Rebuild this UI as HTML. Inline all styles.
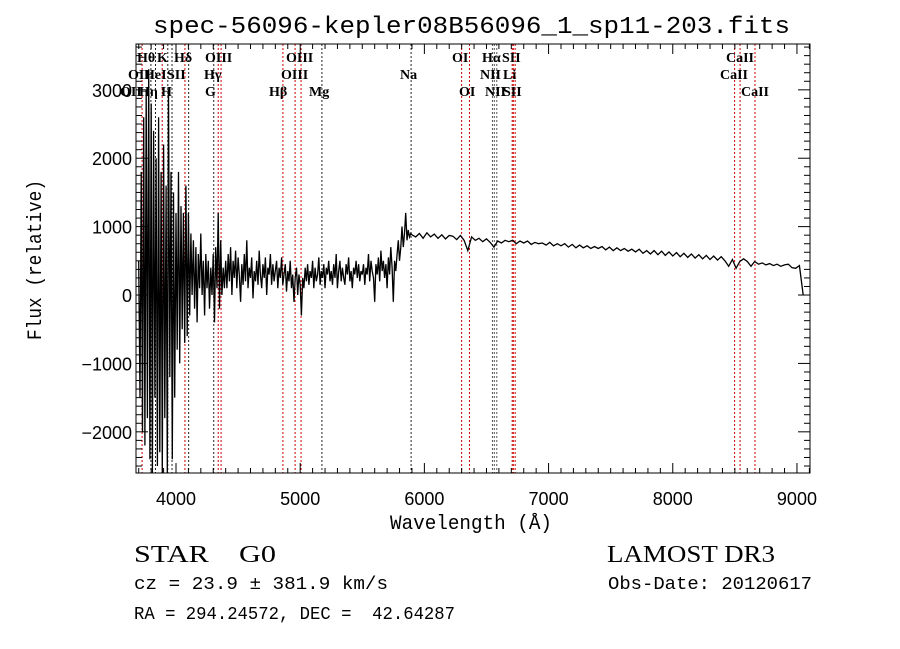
<!DOCTYPE html>
<html><head><meta charset="utf-8"><style>
html,body{margin:0;padding:0;background:#fff;}
svg{display:block;}
text{fill:#000;}
</style></head><body>
<svg id="chart" width="900" height="649" viewBox="0 0 900 649" xmlns="http://www.w3.org/2000/svg">
<rect x="0" y="0" width="900" height="649" fill="#fff"/>
<text x="153" y="33" textLength="637" lengthAdjust="spacingAndGlyphs" font-family="Liberation Mono, monospace" font-size="24">spec-56096-kepler08B56096_1_sp11-203.fits</text>
<g id="lines"></g>
<g id="series"></g>
<g id="axes"></g>
<text x="390" y="529" textLength="162" lengthAdjust="spacingAndGlyphs" font-family="Liberation Mono, monospace" font-size="20">Wavelength (Å)</text>
<text transform="translate(41,340) rotate(-90)" textLength="160" lengthAdjust="spacingAndGlyphs" font-family="Liberation Mono, monospace" font-size="20">Flux (relative)</text>
<text x="134" y="562" textLength="142" lengthAdjust="spacingAndGlyphs" font-family="Liberation Serif, serif" font-size="24" xml:space="preserve">STAR    G0</text>
<text x="607" y="562" textLength="168" lengthAdjust="spacingAndGlyphs" font-family="Liberation Serif, serif" font-size="24">LAMOST DR3</text>
<text x="134" y="589" textLength="254" lengthAdjust="spacingAndGlyphs" font-family="Liberation Mono, monospace" font-size="18">cz = 23.9 ± 381.9 km/s</text>
<text x="608" y="589" textLength="204" lengthAdjust="spacingAndGlyphs" font-family="Liberation Mono, monospace" font-size="18">Obs-Date: 20120617</text>
<text x="134" y="619" textLength="321" lengthAdjust="spacingAndGlyphs" font-family="Liberation Mono, monospace" font-size="18" xml:space="preserve">RA = 294.24572, DEC =  42.64287</text>
</svg>
<script>
// ---- data ----
const seg1Start = 3700, seg1Step = 10;
const seg1Flux = [500,-1500,1800,-2000,2600,-2200,3000,-1800,3300,-2400,2800,-2600,2400,-1500,2000,-2500,2600,-2300,1800,-2600,2200,-1800,1600,-2600,3000,-1200,1800,-2400,1500,-1500,1200,
-800,1800,-1000,1300,-500,1200,-700,1600,-600,1200,-300,900,0,800,-200,700,-400,600,100,900,0,500,-300,600,100,500,-200,400,0,600,-400,700,100,1200,-200,800,0,400,100,500,
100,600,200,700,0,500,250,650,100,550,300,-100,450,150,600,200,800,100,400,250,550,-50,350,200,500,150,650,300,100,450,250,550,0,400,300,600,150,450,200,350,500,100,400,250,550,150,300,450,50,350,200,500,100,300,-100,250,400,0,300,150,
-300,250,100,400,200,450,150,350,250,500,100,400,200,300,550,150,350,250,450,100,400,300,500,200,350,150,450,250,600,100,350,500,200,400,250,150,450,300,550,200,350,100,400,300,500,250,450,200,350,300,
450,150,400,300,600,200,500,350,250,-100,450,300,550,200,650,350,500,250,450,100,550,300,700,400,-100,500,350,600,800,500,700,1000,700,900,1200,800,950,850,900,880];
const seg2Start = 5930, seg2Step = 30;
const seg2Flux = [850,900,830,910,850,890,830,880,820,870,
860,810,870,800,650,850,800,830,780,820,
770,700,790,760,800,780,800,750,790,760,
790,740,770,750,760,730,770,720,750,720,
750,700,740,690,730,690,720,680,710,680,
710,660,700,650,690,650,680,640,670,630,
670,610,650,600,650,590,640,580,630,570,
620,560,610,550,600,540,590,530,580,520,
570,510,560,500,420,520,390,490,530,490,
420,490,450,470,440,460,430,450,420,440,
450,400,390,430,0];
const lineWaves = [3727,3798,3835,3889,3934,3968,4072,4102,4304,4340,4363,4861,4959,5007,5175,5893,6300,6363,6548,6563,6583,6707,6716,6731,8498,8542,8662];
const lineKinds = ['r','k','k','r','k','k','r','k','k','r','r','r','r','r','k','k','r','r','g','g','g','r','r','r','r','r','r'];
const labelText = ['Hθ','K','Hδ','OIII','OIII','OII','HeI','SII','Hγ','OIII','OII','Hη','H','G','Hβ','Mg','OI','Hα','SII','CaII','Na','NII','Li','CaII','OI','NII','SII','CaII'];
const labelX = [137,157,174,205,286,128,144,167,204,281,120,139,161,205,269,309,452,482,502,726,400,480,503,720,459,485,503,741];
const labelRow = [0,0,0,0,0,1,1,1,1,1,2,2,2,2,2,2,0,0,0,0,1,1,1,1,2,2,2,2];
const xTicks = [4000,5000,6000,7000,8000,9000];
const yTicks = [-2000,-1000,0,1000,2000,3000];

// ---- scales ----
const X0=136, X1=810, Y0=44, Y1=473;
const WMIN=3678, WMAX=9105, FMIN=-2602, FMAX=3670;
const sx = w => X0 + (w-WMIN)/(WMAX-WMIN)*(X1-X0);
const sy = f => Y1 - (f-FMIN)/(FMAX-FMIN)*(Y1-Y0);
const NS='http://www.w3.org/2000/svg';
function mk(tag, attrs, parent){const e=document.createElementNS(NS,tag);for(const k in attrs)e.setAttribute(k,attrs[k]);parent.appendChild(e);return e;}

// spectral lines
const lg=document.getElementById('lines');
lineWaves.forEach((w,i)=>{
  const col = lineKinds[i]==='r' ? '#cc0000' : (lineKinds[i]==='g' ? '#555' : '#222');
  const l=mk('line',{x1:sx(w),x2:sx(w),y1:Y0,y2:Y1,stroke:col,'stroke-width':1,'stroke-dasharray':'2,2'},lg);
  
  
});
labelText.forEach((t,i)=>{
  const e=mk('text',{x:labelX[i],y:62+labelRow[i]*17,'font-family':'Liberation Serif, serif','font-size':14,'font-weight':'bold'},lg);
  e.textContent=t;
  
  
});

// series
const pts=[];
seg1Flux.forEach((f,i)=>pts.push(sx(seg1Start+i*seg1Step).toFixed(1)+','+sy(f).toFixed(1)));
seg2Flux.forEach((f,i)=>pts.push(sx(seg2Start+i*seg2Step).toFixed(1)+','+sy(f).toFixed(1)));
const sg=document.getElementById('series');
const pl=mk('polyline',{points:pts.join(' '),fill:'none',stroke:'#000','stroke-width':1.3},sg);



// axes
const ag=document.getElementById('axes');
const box=mk('rect',{x:X0,y:Y0,width:X1-X0,height:Y1-Y0,fill:'none',stroke:'#000','stroke-width':1},ag);


for(let w=3700; w<=9100; w+=100){
  const x=sx(w), major=(w%1000===0), len=major?10:5;
  mk('line',{x1:x,x2:x,y1:Y1,y2:Y1-len,stroke:'#000'},ag);
  mk('line',{x1:x,x2:x,y1:Y0,y2:Y0+len,stroke:'#000'},ag);
}
xTicks.forEach(w=>{
  const t=mk('text',{x:sx(w),y:505,'text-anchor':'middle','font-family':'Liberation Sans, sans-serif','font-size':18},ag);
  t.textContent=w;
  
  
});
for(let f=-2500; f<=3625; f+=125){
  const y=sy(f), major=(f%1000===0), len=major?12:6;
  mk('line',{x1:X0,x2:X0+len,y1:y,y2:y,stroke:'#000'},ag);
  mk('line',{x1:X1,x2:X1-len,y1:y,y2:y,stroke:'#000'},ag);
}
yTicks.forEach(f=>{
  const t=mk('text',{x:132,y:sy(f)+7,'text-anchor':'end','font-family':'Liberation Sans, sans-serif','font-size':18},ag);
  t.textContent=(f<0?'\u2212'+(-f):f);
  
  
});
</script>
</body></html>
